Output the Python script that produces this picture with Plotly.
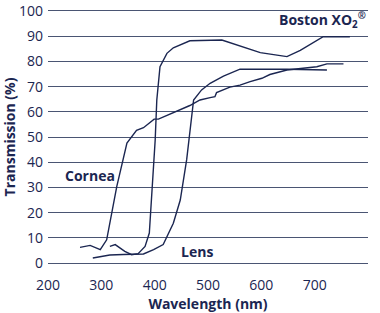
import plotly.graph_objects as go

navy = "#1b2651"
grid = "#4a5573"

cornea_x = [260, 279, 298, 310, 329, 344, 348, 366, 379, 399, 407, 466, 485, 504, 513, 516, 541, 560, 579, 601, 616, 648, 673, 704, 723, 754]
cornea_y = [6.2, 7.0, 5.3, 9.2, 30.4, 44.9, 47.6, 52.6, 53.7, 57.1, 57.1, 62.5, 64.7, 65.6, 66.0, 67.6, 69.8, 70.6, 72.0, 73.3, 74.8, 76.6, 77.3, 77.9, 79.0, 79.0]

lens_x = [284, 316, 341, 360, 379, 398, 416, 435, 448, 460, 466, 473, 488, 504, 529, 560, 648, 723]
lens_y = [2.0, 3.2, 3.4, 3.6, 3.6, 5.3, 7.3, 15.8, 25.0, 41.0, 52.8, 64.7, 68.7, 71.3, 74.2, 76.9, 76.9, 76.6]

boston_x = [316, 326, 344, 357, 369, 382, 390, 394, 399, 401, 404, 410, 423, 435, 466, 526, 598, 648, 673, 716, 766]
boston_y = [6.6, 7.3, 4.6, 3.3, 3.7, 6.6, 11.9, 25.0, 45.0, 48.9, 64.7, 77.9, 83.2, 85.4, 88.2, 88.5, 83.5, 81.9, 84.4, 89.8, 89.8]

x_ticks = [200, 300, 400, 500, 600, 700, 800]
y_ticks = [0, 10, 20, 30, 40, 50, 60, 70, 80, 90, 100]

FONT = "Open Sans"

fig = go.Figure()
for xs, ys, name in [(cornea_x, cornea_y, "Cornea"), (lens_x, lens_y, "Lens"), (boston_x, boston_y, "Boston XO2")]:
    fig.add_trace(go.Scatter(x=xs, y=ys, mode="lines", name=name, cliponaxis=False,
                             line=dict(color=navy, width=1.4), showlegend=False))

ann_font = dict(size=14, color=navy, family=FONT)
fig.add_annotation(x=800, y=96.4, xref="x", yref="y", text="<b>Boston XO<sub>2</sub><sup>®</sup></b>",
                   showarrow=False, xanchor="right", font=ann_font)
fig.add_annotation(x=228, y=34.6, xref="x", yref="y", text="<b>Cornea</b>",
                   showarrow=False, xanchor="left", font=ann_font)
fig.add_annotation(x=479, y=4.6, xref="x", yref="y", text="<b>Lens</b>",
                   showarrow=False, xanchor="center", font=ann_font)

fig.update_layout(
    width=380, height=313,
    margin=dict(l=48, r=12, t=11, b=50),
    paper_bgcolor="white", plot_bgcolor="white",
    font=dict(family=FONT, color=navy, size=14),
    xaxis=dict(range=[200, 800], tickvals=x_ticks, showgrid=False, zeroline=False,
               showline=True, mirror=True, linecolor=grid, linewidth=1,
               ticks="", ticklabelstandoff=9, automargin=False,
               title=dict(text="<b>Wavelength (nm)</b>", font=dict(size=14), standoff=10)),
    yaxis=dict(range=[0, 100], tickvals=y_ticks, showgrid=True, gridcolor=grid, gridwidth=1,
               zeroline=False, showline=False, ticks="", ticklabelstandoff=4, automargin=False,
               title=dict(text="<b>Transmission (%)</b>", font=dict(size=14), standoff=4)),
)

fig.write_html("out.html", config={"displayModeBar": False},
               post_script="document.body.style.margin='0';")
